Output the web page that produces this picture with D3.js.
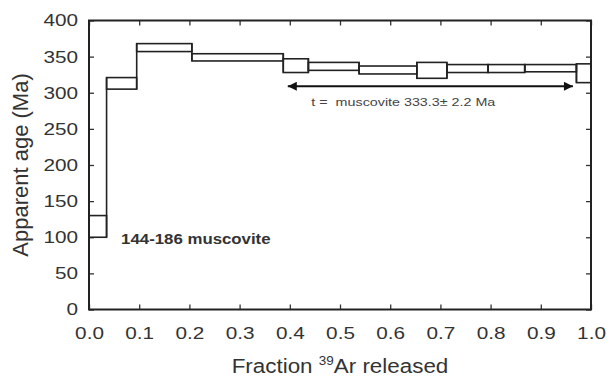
<!DOCTYPE html>
<html>
<head>
<meta charset="utf-8">
<script src="https://cdn.jsdelivr.net/npm/d3@7"></script>
<style>
  body { margin: 0; background: #fff; }
  svg { display: block; }
  text { font-family: "Liberation Sans", Arial, sans-serif; fill: #333; }
</style>
</head>
<body>
<div id="chart"></div>
<script>
// step heating spectrum
var fracEdges = [0, 0.035, 0.095, 0.205, 0.387, 0.437, 0.538, 0.653, 0.713, 0.795, 0.868, 0.971, 1.0];
var ageLow  = [100, 305, 357, 344, 328, 331, 326, 320, 328, 328, 329, 314];
var ageHigh = [130, 321, 368, 354, 347, 342, 337, 342, 339, 339, 339, 340];

var xTicks = [0, 0.1, 0.2, 0.3, 0.4, 0.5, 0.6, 0.7, 0.8, 0.9, 1.0];
var yTicks = [0, 50, 100, 150, 200, 250, 300, 350, 400];

// plateau arrow and labels
var plateau = {from: 0.396, to: 0.964, age: 309};
var plateauLabel = "t =  muscovite 333.3\u00b1 2.2 Ma";
var sampleLabel = "144-186 muscovite";

var W = 610, H = 377;
var margin = {top: 20.5, right: 19, bottom: 67.5, left: 89},
  width = W - margin.left - margin.right,
  height = H - margin.top - margin.bottom;

var svg = d3.select("#chart")
  .append("svg")
  .attr("width", W)
  .attr("height", H);

var g = svg.append("g")
  .attr("transform", "translate(" + margin.left + "," + margin.top + ")");

var x = d3.scaleLinear().domain([0, 1]).range([0, width]);
var y = d3.scaleLinear().domain([0, 400]).range([height, 0]);

// stretch glyphs sideways, the source picture is wider than tall
function stretch(sel, k) {
  sel.each(function() {
    var w = this.getComputedTextLength();
    d3.select(this).attr("textLength", w * k).attr("lengthAdjust", "spacingAndGlyphs");
  });
}

// axes, ticks pointing inward
var ax = g.append("g")
  .attr("transform", "translate(0," + height + ")")
  .call(d3.axisBottom(x).tickValues(xTicks).tickFormat(d3.format(".1f")).tickSizeInner(-5).tickSizeOuter(0).tickPadding(20));
var ay = g.append("g")
  .call(d3.axisLeft(y).tickValues(yTicks).tickSizeInner(-5).tickSizeOuter(0).tickPadding(11));
g.append("g")
  .call(d3.axisTop(x).tickValues(xTicks).tickFormat("").tickSizeInner(-5).tickSizeOuter(0));
g.append("g")
  .attr("transform", "translate(" + width + ",0)")
  .call(d3.axisRight(y).tickValues(yTicks).tickFormat("").tickSizeInner(-5).tickSizeOuter(0));

g.selectAll(".domain").remove();
g.selectAll(".tick line").attr("stroke", "#333").attr("stroke-width", 1.3);
[ax, ay].forEach(function(a) {
  a.selectAll("text").style("font-size", "17px").style("fill", "#333");
});
ax.selectAll("text").attr("dy", "0.55em");
stretch(ax.selectAll("text"), 1.22);
stretch(ay.selectAll("text"), 1.22);

// frame
g.append("rect")
  .attr("width", width)
  .attr("height", height)
  .attr("fill", "none")
  .attr("stroke", "#222")
  .attr("stroke-width", 2);

// age steps
var steps = ageLow.map(function(d, i) {
  return {x0: fracEdges[i], x1: fracEdges[i + 1], lo: d, hi: ageHigh[i]};
});
g.selectAll(".step")
  .data(steps)
  .enter().append("rect")
  .attr("class", "step")
  .attr("x", function(d) { return x(d.x0); })
  .attr("y", function(d) { return y(d.hi); })
  .attr("width", function(d) { return x(d.x1) - x(d.x0); })
  .attr("height", function(d) { return y(d.lo) - y(d.hi); })
  .attr("fill", "none")
  .attr("stroke", "#222")
  .attr("stroke-width", 1.6);

// vertical risers joining one step to the next
var risers = steps.slice(1).map(function(d, i) {
  var p = steps[i];
  return {x: d.x0, lo: Math.min(p.lo, d.lo), hi: Math.max(p.hi, d.hi)};
});
g.selectAll(".riser")
  .data(risers)
  .enter().append("line")
  .attr("class", "riser")
  .attr("x1", function(d) { return x(d.x); })
  .attr("x2", function(d) { return x(d.x); })
  .attr("y1", function(d) { return y(d.lo); })
  .attr("y2", function(d) { return y(d.hi); })
  .attr("stroke", "#222")
  .attr("stroke-width", 1.6);

// plateau arrow
var defs = svg.append("defs");
defs.append("marker")
  .attr("id", "head")
  .attr("viewBox", "0 0 10 10")
  .attr("refX", 10).attr("refY", 5)
  .attr("markerWidth", 7).attr("markerHeight", 4.5)
  .attr("markerUnits", "strokeWidth")
  .attr("orient", "auto-start-reverse")
  .append("path")
  .attr("d", "M0,0L10,5L0,10Z")
  .attr("fill", "#111");

g.append("line")
  .attr("x1", x(plateau.from)).attr("x2", x(plateau.to))
  .attr("y1", y(plateau.age)).attr("y2", y(plateau.age))
  .attr("stroke", "#111")
  .attr("stroke-width", 2)
  .attr("marker-start", "url(#head)")
  .attr("marker-end", "url(#head)");

var pl = g.append("text")
  .attr("x", x(0.443))
  .attr("y", y(281.5))
  .style("font-size", "11px")
  .style("white-space", "pre")
  .style("fill", "#444")
  .text(plateauLabel);
stretch(pl, 1.3);

var sl = g.append("text")
  .attr("x", x(0.064))
  .attr("y", y(91))
  .style("font-size", "14px")
  .style("font-weight", "bold")
  .style("fill", "#333")
  .text(sampleLabel);
stretch(sl, 1.2);

// axis titles
var xt = svg.append("text")
  .attr("x", margin.left + width / 2)
  .attr("y", 373)
  .attr("text-anchor", "middle")
  .style("font-size", "20px");
xt.append("tspan").text("Fraction ");
xt.append("tspan").attr("dy", -8).style("font-size", "12px").text("39");
xt.append("tspan").attr("dy", 8).text("Ar released");
stretch(xt, 1.12);

svg.append("text")
  .attr("transform", "translate(28," + (margin.top + height / 2) + ") rotate(-90)")
  .attr("text-anchor", "middle")
  .style("font-size", "22px")
  .text("Apparent age (Ma)");
</script>
</body>
</html>
